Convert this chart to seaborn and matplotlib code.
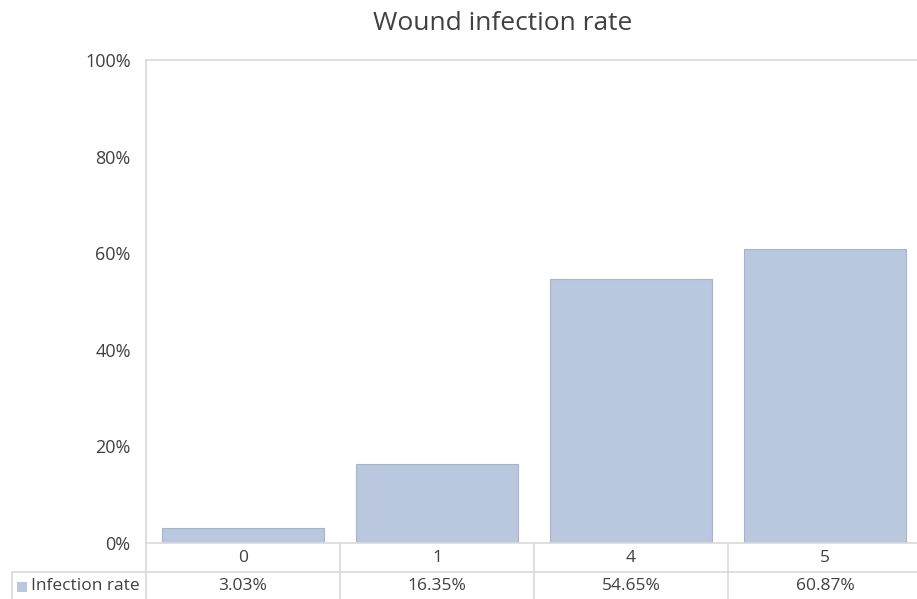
import matplotlib
matplotlib.use("Agg")
import matplotlib.pyplot as plt
import matplotlib.transforms as mtransforms
from matplotlib.lines import Line2D
from matplotlib.patches import Rectangle
import seaborn as sns
import pandas as pd

categories = ["0", "1", "4", "5"]
infection_rate = [3.03, 16.35, 54.65, 60.87]
series_name = "Infection rate"
title = "Wound infection rate"
y_ticks = [0, 20, 40, 60, 80, 100]

bar_color = "#B9C8DF"
edge_color = "#A9B4C4"
grid_color = "#D9D9D9"
text_color = "#404040"

sns.set_theme(style="white")
plt.rcParams["font.family"] = ["Open Sans", "DejaVu Sans"]

W, H = 917, 599
fig = plt.figure(figsize=(W / 100, H / 100), dpi=100)
left_px, right_px, top_px, bottom_px = 146, 922, 60, 543
ax = fig.add_axes([left_px / W, 1 - bottom_px / H,
                   (right_px - left_px) / W, (bottom_px - top_px) / H])

df = pd.DataFrame({"category": categories, "rate": infection_rate})
sns.barplot(data=df, x="category", y="rate", color=bar_color, width=0.84,
            edgecolor=edge_color, linewidth=0.8, saturation=1, ax=ax)

ax.set_xlim(-0.5, len(categories) - 0.5)
ax.set_ylim(0, 100)
ax.set_yticks(y_ticks)
ax.set_yticklabels([f"{t}%" for t in y_ticks], fontsize=13, color=text_color)
ax.tick_params(axis="y", length=0, pad=11)
ax.set_xticks([])
ax.set_xlabel("")
ax.set_ylabel("")
for side in ["top", "left", "right", "bottom"]:
    ax.spines[side].set_color(grid_color)
    ax.spines[side].set_linewidth(1.2)
ax.spines["right"].set_visible(False)

fig.text(503 / W, 1 - 24 / H, title, ha="center", va="center",
         fontsize=19, color=text_color)

# Data table below the plot area
row_h = 29 / (bottom_px - top_px)
trans = mtransforms.blended_transform_factory(ax.transData, ax.transAxes)
table_left = (12 - left_px) / (right_px - left_px)

lines = []
for i in range(len(categories) + 1):
    xb = i - 0.5
    lines.append(Line2D([xb, xb], [0, -2.2 * row_h], transform=trans))
lines.append(Line2D([table_left, 1], [-row_h, -row_h], transform=ax.transAxes))
lines.append(Line2D([table_left, table_left], [-row_h, -2.2 * row_h], transform=ax.transAxes))
for ln in lines:
    ln.set_color(grid_color)
    ln.set_linewidth(1.2)
    ln.set_clip_on(False)
    ax.add_artist(ln)

for i, (cat, val) in enumerate(zip(categories, infection_rate)):
    ax.text(i, -0.5 * row_h, cat, transform=trans, ha="center", va="center",
            fontsize=12.5, color=text_color, clip_on=False)
    ax.text(i, -1.5 * row_h, f"{val:.2f}%", transform=trans, ha="center",
            va="center", fontsize=12.5, color=text_color, clip_on=False)

sq = 10 / (right_px - left_px)
sq_h = 10 / (bottom_px - top_px)
ax.add_patch(Rectangle(((17 - left_px) / (right_px - left_px), -1.5 * row_h - sq_h / 2),
                       sq, sq_h, transform=ax.transAxes, facecolor=bar_color,
                       edgecolor="none", clip_on=False))
ax.text((31 - left_px) / (right_px - left_px), -1.5 * row_h, series_name,
        transform=ax.transAxes, ha="left", va="center", fontsize=12.5,
        color=text_color, clip_on=False)

fig.savefig("out.png", dpi=100)
